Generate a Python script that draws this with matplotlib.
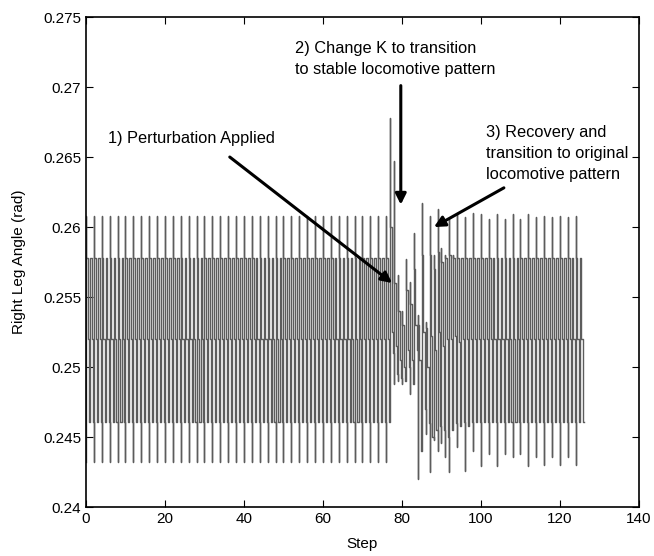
import numpy as np
import matplotlib
matplotlib.use("Agg")
import matplotlib.pyplot as plt

plt.rcParams['font.family'] = ['Liberation Sans', 'DejaVu Sans']

# steady gait levels (two-step cycle)
steady_hi = [0.2608, 0.2578]
steady_up = [0.2578, 0.2578]
steady_mid = [0.2520, 0.2520]
steady_dn = [0.2461, 0.2461]
steady_lo = [0.2432, 0.2461]

# transient, steps 76..99 (perturbation, K change, recovery)
trans_hi = [0.2608, 0.2678, 0.2647, 0.2566, 0.2540, 0.2577, 0.2561, 0.2596,
            0.2537, 0.2617, 0.2532, 0.2608, 0.2580, 0.2613, 0.2585, 0.2580,
            0.2606, 0.2580, 0.2610, 0.2578, 0.2607, 0.2578, 0.2610, 0.2578]
trans_up = [0.2578, 0.2600, 0.2560, 0.2540, 0.2530, 0.2555, 0.2545, 0.2570,
            0.2530, 0.2580, 0.2528, 0.2580, 0.2570, 0.2582, 0.2575, 0.2578,
            0.2580, 0.2578, 0.2578, 0.2578, 0.2578, 0.2578, 0.2578, 0.2578]
trans_mid = [0.2520, 0.2525, 0.2515, 0.2505, 0.2500, 0.2512, 0.2505, 0.2530,
             0.2505, 0.2525, 0.2500, 0.2522, 0.2512, 0.2525, 0.2515, 0.2520,
             0.2520, 0.2522, 0.2518, 0.2520, 0.2520, 0.2520, 0.2520, 0.2520]
trans_dn = [0.2461, 0.2510, 0.2495, 0.2492, 0.2490, 0.2500, 0.2488, 0.2512,
            0.2440, 0.2470, 0.2460, 0.2450, 0.2455, 0.2458, 0.2455, 0.2450,
            0.2455, 0.2460, 0.2458, 0.2461, 0.2458, 0.2461, 0.2461, 0.2461]
trans_lo = [0.2432, 0.2500, 0.2488, 0.2490, 0.2488, 0.2500, 0.2481, 0.2509,
            0.2420, 0.2455, 0.2452, 0.2425, 0.2448, 0.2440, 0.2446, 0.2436,
            0.2425, 0.2458, 0.2443, 0.2461, 0.2426, 0.2461, 0.2440, 0.2461]

# after recovery, steps 100..125 (spike heights / depths vary slightly)
post_hi = [0.2609, 0.2578, 0.2606, 0.2578, 0.2609, 0.2578, 0.2606, 0.2578,
           0.2609, 0.2578, 0.2606, 0.2578, 0.2609, 0.2578, 0.2607, 0.2578,
           0.2608, 0.2578, 0.2607, 0.2578, 0.2608, 0.2578, 0.2607, 0.2578,
           0.2608, 0.2578]
post_lo = [0.2429, 0.2461, 0.2438, 0.2461, 0.2429, 0.2461, 0.2438, 0.2461,
           0.2436, 0.2461, 0.2438, 0.2461, 0.2429, 0.2461, 0.2436, 0.2461,
           0.2430, 0.2461, 0.2436, 0.2461, 0.2430, 0.2461, 0.2436, 0.2461,
           0.2430, 0.2461]

n_before = 76
n_after = len(post_hi)

hi = steady_hi * (n_before // 2) + trans_hi + post_hi
up = steady_up * (n_before // 2) + trans_up + steady_up * (n_after // 2)
mid = steady_mid * (n_before // 2) + trans_mid + steady_mid * (n_after // 2)
dn = steady_dn * (n_before // 2) + trans_dn + steady_dn * (n_after // 2)
lo = steady_lo * (n_before // 2) + trans_lo + post_lo

# build the within-step trace
xs, ys = [], []
for k in range(len(hi)):
    xs += [k, k, k, k + 0.42, k + 0.42, k + 0.72, k + 0.72, k + 1]
    ys += [lo[k], hi[k], up[k], up[k], mid[k], mid[k], dn[k], dn[k]]

fig = plt.figure(figsize=(6.54, 5.56), dpi=100)
ax = fig.add_axes([0.1315, 0.088, 0.8455, 0.8814])

ax.plot(xs, ys, color='#5c5c5c', lw=1.0)

ax.set_xlim(0, 140)
ax.set_ylim(0.24, 0.275)
ax.set_xticks(np.arange(0, 141, 20))
ax.set_yticks([0.24, 0.245, 0.25, 0.255, 0.26, 0.265, 0.27, 0.275])
ax.set_yticklabels(['0.24', '0.245', '0.25', '0.255', '0.26', '0.265', '0.27', '0.275'])
ax.tick_params(direction='in', top=True, right=True, labelsize=11, length=5)
for s in ax.spines.values():
    s.set_linewidth(1.2)
ax.set_xlabel('Step', fontsize=11, labelpad=8)
ax.set_ylabel('Right Leg Angle (rad)', fontsize=11, labelpad=12)

fs = 11.8
arrow = dict(arrowstyle='-|>', color='black', lw=2.2, mutation_scale=16,
             shrinkA=0, shrinkB=0)
ax.text(5.6, 0.2663, '1) Perturbation Applied', fontsize=fs, va='center', ha='left')
ax.annotate('', xy=(77.5, 0.2560), xytext=(36.4, 0.2650), arrowprops=arrow)
ax.text(53.0, 0.2733, '2) Change K to transition\nto stable locomotive pattern',
        fontsize=fs, va='top', ha='left', linespacing=1.5)
ax.annotate('', xy=(79.7, 0.2616), xytext=(79.7, 0.2701), arrowprops=arrow)
ax.text(101.2, 0.2673, '3) Recovery and\ntransition to original\nlocomotive pattern',
        fontsize=fs, va='top', ha='left', linespacing=1.5)
ax.annotate('', xy=(88.1, 0.2600), xytext=(105.8, 0.2628), arrowprops=arrow)

fig.savefig('out.png', dpi=100)
